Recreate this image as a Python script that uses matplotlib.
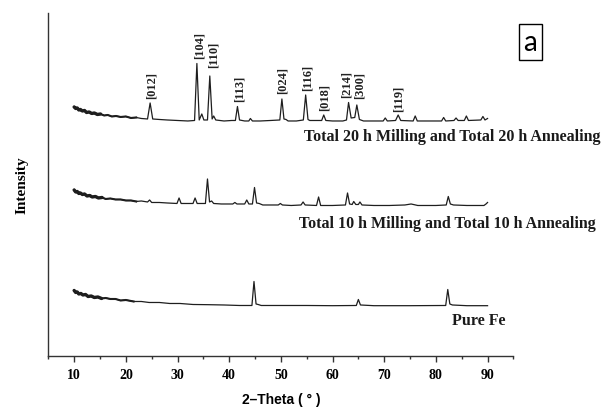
import matplotlib
matplotlib.use("Agg")
import matplotlib.pyplot as plt
from matplotlib.ticker import MultipleLocator

# 2-theta (deg) / intensity (a.u., offset traces)
theta_20h = [10.0, 10.3, 10.6, 10.9, 11.2, 11.6, 12.0, 12.4, 12.9, 13.4, 13.9, 14.5, 15.1, 15.8,
             16.5, 17.3, 18.1, 19.0, 20.0, 21.0, 22.0, 23.0, 24.2, 24.7, 25.2, 26.5, 28.0, 30.0,
             32.0, 33.3, 33.75, 34.2, 34.7, 35.1, 35.8, 36.25, 36.7, 37.0, 37.4, 39.0, 40.5, 41.2,
             41.6, 42.0, 43.0, 43.8, 44.1, 44.5, 46.0, 48.0, 49.8, 50.2, 50.6, 51.0, 51.4, 53.0,
             54.35, 54.8, 55.25, 55.6, 57.9, 58.3, 58.7, 60.0, 62.0, 62.7, 63.1, 63.6, 64.3, 64.7,
             65.2, 66.0, 68.0, 69.8, 70.2, 70.6, 72.2, 72.7, 73.2, 75.6, 76.0, 76.4, 78.5, 81.1,
             81.5, 81.9, 83.5, 83.9, 84.3, 85.5, 85.9, 86.3, 88.7, 89.1, 89.5, 90.0]
int_20h = [249, 247.5, 248, 246, 246.5, 245, 245.5, 243.5, 244, 242.5, 243, 241.5, 242, 240.5,
           241, 239.5, 240, 239, 239.5, 238, 238.5, 237.5, 237, 253, 237, 236.5, 236, 235.5,
           235, 235.5, 292.5, 236, 242, 236, 236, 280, 237, 240, 236, 235, 235.5, 235.5,
           249.5, 236, 235, 235, 237.5, 235, 235, 235.5, 236, 257, 237, 236.5, 235, 235,
           236, 261, 236.5, 235.5, 235.5, 241, 235.5, 235, 235, 236, 253.5, 238, 238.5, 251,
           236.5, 235, 235, 235, 238, 235, 235.5, 241, 235.5, 235, 240, 235, 235, 235,
           238.5, 235, 235.5, 238, 235.5, 235.5, 240, 235.5, 236, 239.5, 236, 237.5]

theta_10h = [10.0, 10.3, 10.6, 10.9, 11.2, 11.6, 12.0, 12.5, 13.0, 13.5, 14.1, 14.7, 15.4, 16.1,
             17.0, 18.0, 19.0, 20.0, 21.0, 22.0, 23.0, 24.2, 24.6, 25.0, 26.5, 28.0, 29.9, 30.3,
             30.7, 33.0, 33.4, 33.8, 35.4, 35.8, 36.2, 36.6, 37.0, 38.5, 40.7, 41.1, 41.5, 43.0,
             43.4, 43.8, 44.5, 44.9, 45.3, 45.8, 46.5, 49.5, 49.9, 50.3, 52.0, 53.9, 54.3, 54.7,
             56.9, 57.3, 57.7, 60.0, 62.5, 62.9, 63.3, 63.8, 64.1, 64.5, 65.0, 65.3, 65.7, 68.0,
             71.0, 74.0, 75.2, 76.5, 80.0, 82.0, 82.4, 82.8, 83.4, 86.0, 89.3, 89.7, 90.0]
int_10h = [166, 164, 164.5, 162.5, 163, 161.5, 162, 160, 160.5, 159, 159.5, 158, 158.5, 157,
           157.5, 156.5, 156.5, 155.5, 155.5, 154.5, 155, 154, 156, 153.5, 153.5, 153, 152.5, 158,
           152.5, 152.5, 158, 152.5, 152.5, 177, 154, 155, 152.5, 152, 152, 153.5, 152, 152,
           156, 152, 152, 168.5, 153, 152.5, 151, 151, 152.5, 151, 150.5, 151, 154, 151,
           150.5, 159, 150.5, 150.5, 151, 163, 152, 151.5, 154.5, 151.5, 151.5, 154, 151, 150.5,
           150.5, 151, 152, 150.5, 150.5, 151, 159.5, 152, 151, 150.5, 150.5, 152, 153.5]

theta_fe = [10.0, 10.3, 10.6, 10.9, 11.3, 11.7, 12.2, 12.7, 13.3, 13.9, 14.6, 15.3, 16.1, 17.0,
            18.0, 19.0, 20.0, 21.5, 23.0, 24.5, 26.5, 28.5, 30.5, 33.0, 36.0, 39.0, 42.0, 44.4,
            44.8, 45.2, 45.6, 46.2, 50.0, 55.0, 60.0, 64.6, 65.0, 65.4, 68.0, 75.0, 81.9, 82.3,
            82.7, 83.2, 86.0, 90.0]
int_fe = [65.5, 63.5, 64, 62, 62.5, 61, 61.5, 59.5, 60, 58.5, 59, 57.5, 58, 57,
          57, 55.5, 56, 54.5, 54.5, 53.5, 53.5, 52.5, 52.5, 51.5, 51.3, 51, 50.5, 50.5,
          74.5, 52, 51.5, 50.5, 50.5, 50.5, 50.3, 50.5, 56.5, 51, 50.3, 50.3, 50.5, 66.5,
          52, 51, 50.3, 50.3]

# peak indexing of the 20 h pattern
hkl_labels = ["[012]", "[104]", "[110]", "[113]", "[024]", "[116]", "[018]", "[214]", "[300]", "[119]"]
hkl_theta = [25.0, 34.2, 36.9, 42.0, 50.4, 55.1, 58.4, 62.8, 65.2, 72.7]
hkl_int = [258, 297.5, 289, 255, 263, 266, 246, 259, 258, 245]

sample_names = ["Total 20 h Milling and Total 20 h Annealing",
                "Total 10 h Milling and Total 10 h Annealing",
                "Pure Fe"]

serif = "Liberation Serif"
line_col = "#1e1e1e"

fig = plt.figure(figsize=(6.04, 4.10), dpi=100)
ax = fig.add_axes([0.080, 0.1293, 0.770, 0.8366])

for th, it in [(theta_20h, int_20h), (theta_10h, int_10h), (theta_fe, int_fe)]:
    ax.plot(th, it, color=line_col, lw=0.9)
    # the noisy low-angle part shows up as a thicker band
    n1 = sum(1 for t in th if t <= 15.5)
    n2 = sum(1 for t in th if t <= 22.5)
    ax.plot(th[:n1], it[:n1], color=line_col, lw=2.4, solid_capstyle="round")
    ax.plot(th[:n2], it[:n2], color=line_col, lw=1.5)

for lab, th, it in zip(hkl_labels, hkl_theta, hkl_int):
    ax.text(th, it, lab, rotation=90, ha="center", va="bottom",
            family=serif, fontsize=9, fontweight="bold", color="#222222")

# sample names, placed under each trace (figure coords)
name_pos = [(600 / 604, 1 - 137 / 410), (596 / 604, 1 - 224 / 410), (506 / 604, 1 - 321 / 410)]
for name, (fx, fy) in zip(sample_names, name_pos):
    fig.text(fx, fy, name, ha="right", va="center", family=serif,
             fontsize=11.5, fontweight="bold", color="#1a1a1a")

fig.text(530.5 / 604, 1 - 43 / 410, "a", ha="center", va="center", family="Lato", fontsize=20,
         bbox=dict(boxstyle="square,pad=0.18", facecolor="white", edgecolor="black", lw=1.0))

ax.set_xlim(5, 95)
ax.set_ylim(0, 343)
ax.spines["top"].set_visible(False)
ax.spines["right"].set_visible(False)
for s in ("left", "bottom"):
    ax.spines[s].set_linewidth(1.0)
    ax.spines[s].set_color("#333333")
ax.set_yticks([])
ax.xaxis.set_major_locator(MultipleLocator(10))
ax.xaxis.set_minor_locator(MultipleLocator(5))
ax.set_xticks(range(10, 100, 10))
ax.tick_params(axis="x", which="major", direction="out", length=4.5, width=1.0, pad=4,
               color="#333333")
ax.tick_params(axis="x", which="minor", direction="out", length=2.5, width=1.0, color="#333333")
for t in ax.get_xticklabels():
    t.set_family(serif)
    t.set_fontweight("bold")
    t.set_fontsize(10)

ax.set_xlabel("2\u2013Theta ( \u00b0 )", family="Liberation Sans", fontweight="bold",
              fontsize=10, labelpad=8)
ax.set_ylabel("Intensity", family=serif, fontweight="bold", fontsize=11, labelpad=14)

fig.savefig("out.png", dpi=100)
